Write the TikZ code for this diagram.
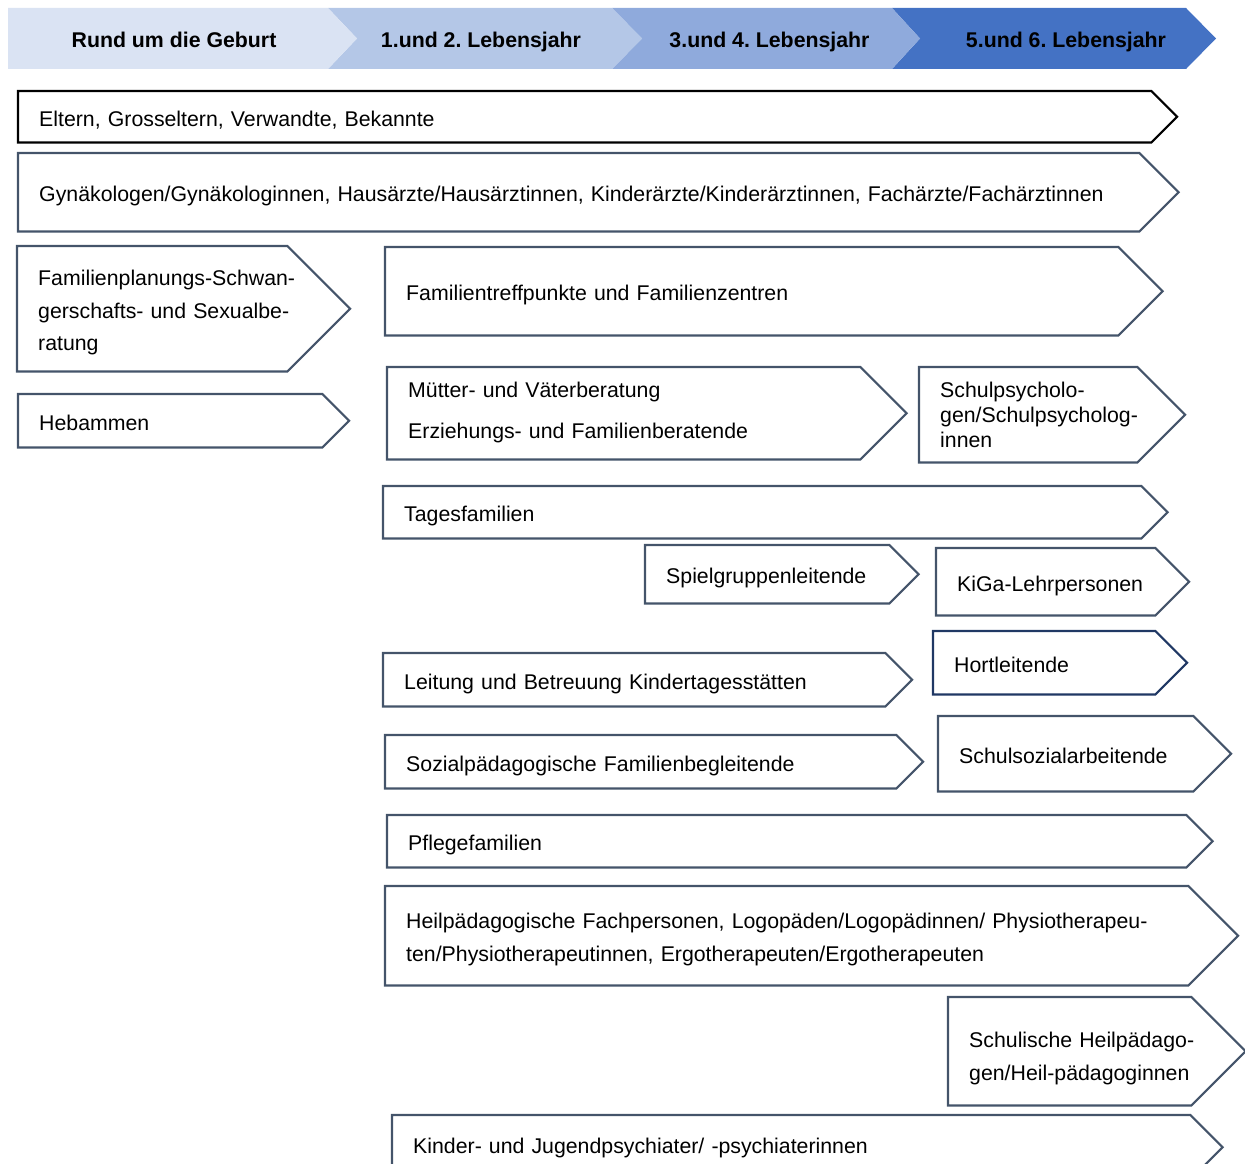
\documentclass[tikz,border=0pt]{standalone}
\usepackage{fontspec}
\setmainfont{Liberation Sans}
\usetikzlibrary{calc}
\definecolor{hdrA}{HTML}{DAE3F3}
\definecolor{hdrB}{HTML}{B4C7E7}
\definecolor{hdrC}{HTML}{8FAADC}
\definecolor{hdrD}{HTML}{4472C4}
\definecolor{plateline}{HTML}{44546A}
\definecolor{hortline}{HTML}{203864}
\frenchspacing
\begin{document}
\begin{tikzpicture}[x=1pt,y=-1pt,font=\fontsize{21.3}{32.5}\selectfont,
	plate/.style={anchor=north west,inner xsep=21pt,inner ysep=0pt,align=left,
		execute at begin node=\rule{0pt}{28.75pt},execute at end node=\strut},
	hdr/.style={font=\fontsize{21.3}{25}\selectfont\bfseries,text depth=0pt}]
	\useasboundingbox (0,0) rectangle (1245,1164);
	% header band
	\fill[hdrD] (892,8) -- (1186,8) -- (1216,38.5) -- (1186,69) -- (892,69) -- (920,38.5) -- cycle;
	\fill[hdrC] (612,8) -- (892,8) -- (920,38.5) -- (892,69) -- (612,69) -- (642,38.5) -- cycle;
	\fill[hdrB] (328,8) -- (612,8) -- (642,38.5) -- (612,69) -- (328,69) -- (357,38.5) -- cycle;
	\fill[hdrA] (8,8) -- (328,8) -- (357,38.5) -- (328,69) -- (8,69) -- cycle;
	\node[hdr] (geburt) at (174,40) {Rund um die Geburt};
	\node[hdr] (jahrA) at (481,40) {1.und 2. Lebensjahr};
	\node[hdr] (jahrB) at (769.5,40) {3.und 4. Lebensjahr};
	\node[hdr] (jahrC) at (1066,40) {5.und 6. Lebensjahr};
	% plates
	\node[plate,text width=1091pt,minimum height=51pt] (eltern) at (18,91) {Eltern, Grosseltern, Verwandte, Bekannte};
	\node[plate,text width=1079pt,minimum height=78pt] (gyn) at (18,153) {\mbox{Gynäkologen/Gynäkologinnen, Hausärzte/Hausärztinnen, Kinderärzte/Kinderärztinnen, Fachärzte/Fachärztinnen}};
	\node[plate,text width=228pt,minimum height=125pt] (famplan) at (17,246) {\mbox{Familienplanungs-Schwan-}\\\mbox{gerschafts- und Sexualbe-}\\ratung};
	\node[plate,text width=262pt,minimum height=53pt] (hebamme) at (18,394) {Hebammen};
	\node[plate,text width=691pt,minimum height=88pt] (treff) at (385,247) {Familientreffpunkte und Familienzentren};
	\node[plate,text width=431pt,minimum height=92pt,execute at end node={\rule[-18.75pt]{0pt}{0pt}}] (mvb) at (387,367) {Mütter- und Väterberatung\\[8pt]Erziehungs- und Familienberatende};
	\node[plate,text width=176pt,minimum height=95pt,font=\fontsize{21.3}{25}\selectfont,execute at end node={\rule[-13.5pt]{0pt}{0pt}}] (schulpsy) at (919,367) {\mbox{Schulpsycholo-}\\\mbox{gen/Schulpsycholog-}\\innen};
	\node[plate,text width=716pt,minimum height=52pt] (tages) at (383,486) {Tagesfamilien};
	\node[plate,text width=202pt,minimum height=58pt] (spiel) at (645,545) {\mbox{Spielgruppenleitende}};
	\node[plate,text width=177pt,minimum height=67pt] (kiga) at (936,548) {\mbox{KiGa-Lehrpersonen}};
	\node[plate,text width=180pt,minimum height=63pt] (hort) at (933,631) {Hortleitende};
	\node[plate,text width=460pt,minimum height=53pt] (kita) at (383,653) {Leitung und Betreuung Kindertagesstätten};
	\node[plate,text width=469pt,minimum height=53pt] (spfb) at (385,735) {Sozialpädagogische Familienbegleitende};
	\node[plate,text width=213pt,minimum height=75pt] (schulsoz) at (938,716) {\mbox{Schulsozialarbeitende}};
	\node[plate,text width=757pt,minimum height=52pt] (pflege) at (387,815) {Pflegefamilien};
	\node[plate,text width=761pt,minimum height=99pt] (heilp) at (385,886) {\mbox{Heilpädagogische Fachpersonen, Logopäden/Logopädinnen/ Physiotherapeu-}\\\mbox{ten/Physiotherapeutinnen, Ergotherapeuten/Ergotherapeuten}};
	\node[plate,text width=201pt,minimum height=108pt,execute at begin node=\rule{0pt}{35pt}] (schulheil) at (948,997) {\mbox{Schulische Heilpädago-}\\\mbox{gen/Heil-pädagoginnen}};
	\node[plate,text width=756pt,minimum height=64pt,execute at end node={\rule[-15.75pt]{0pt}{0pt}}] (kjp) at (392,1115) {Kinder- und Jugendpsychiater/ -psychiaterinnen};
	% outlines with pointed end
	\foreach \b/\c in {eltern/black,gyn/plateline,famplan/plateline,hebamme/plateline,
		treff/plateline,mvb/plateline,schulpsy/plateline,tages/plateline,spiel/plateline,
		kiga/plateline,hort/hortline,kita/plateline,spfb/plateline,schulsoz/plateline,
		pflege/plateline,heilp/plateline,schulheil/plateline,kjp/plateline}
		\draw[\c,line width=2.2pt] let \p1=(\b.north east), \p2=(\b.south east) in
			(\b.north west) -- (\p1) -- ($(\b.east)+({(\y1-\y2)/2},0)$) -- (\p2) -- (\b.south west) -- cycle;
\end{tikzpicture}
\end{document}
